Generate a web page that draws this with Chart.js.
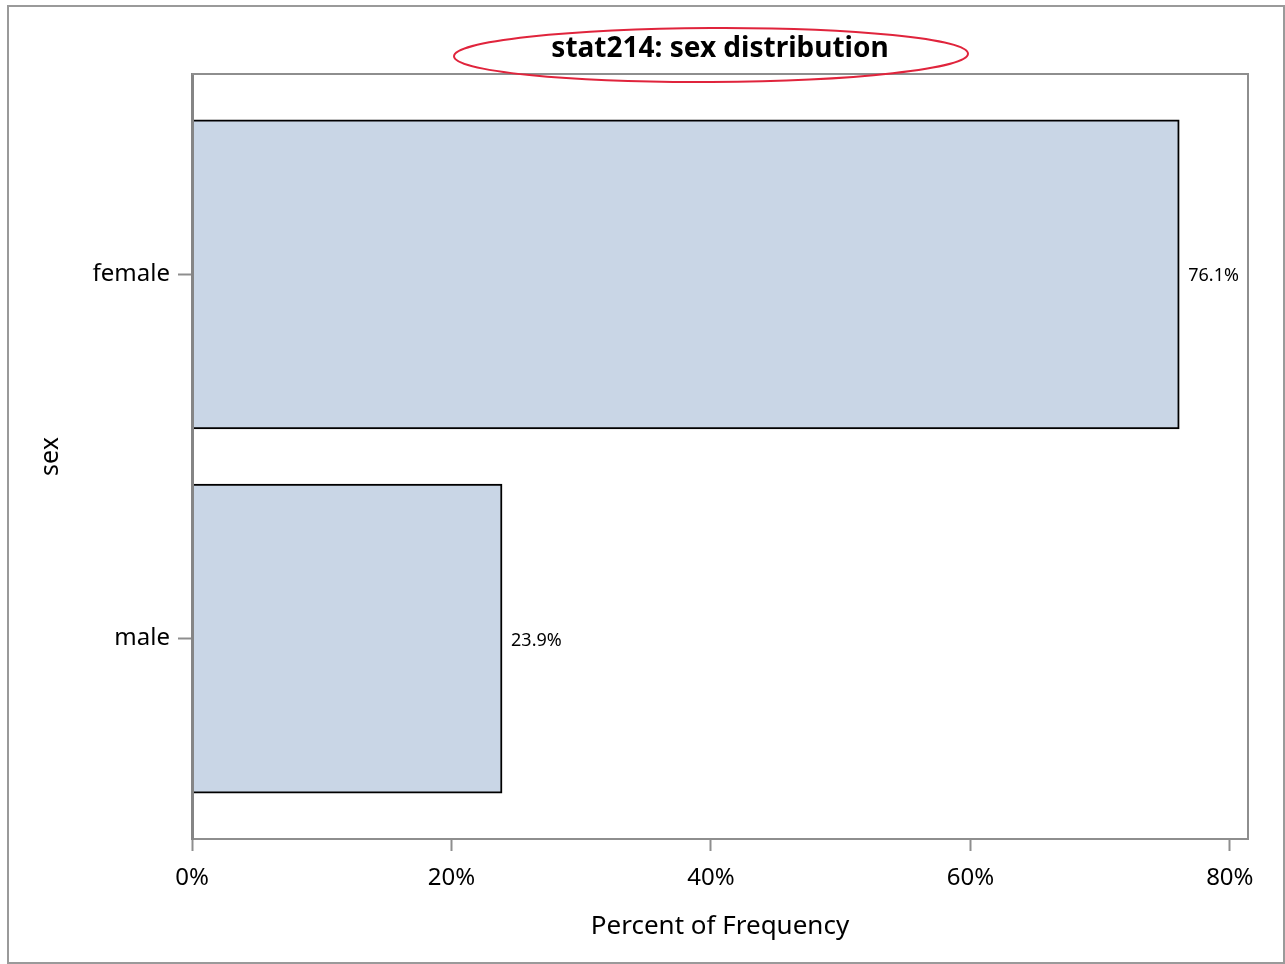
<!DOCTYPE html>
<html>
<head>
<meta charset="utf-8">
<script src="https://cdn.jsdelivr.net/npm/chart.js@4/dist/chart.umd.min.js"></script>
<style>
  html, body { margin: 0; padding: 0; background: #fff; }
  #wrap { width: 1285px; height: 964px; }
</style>
</head>
<body>
<div id="wrap"><canvas id="chart" width="1285" height="964"></canvas></div>
<script>
const categories = ['female', 'male'];
const percents = [76.1, 23.9];
const xTicks = [0, 20, 40, 60, 80];

const FONT = '"Noto Sans", "DejaVu Sans", sans-serif';
const GRAY = '#8e8e8e';

// category index -> position on the y scale (first category at the top)
const points = categories.map((c, i) => ({ x: percents[i], y: categories.length - 1 - i }));

const framePlugin = {
  id: 'frame',
  beforeDraw(chart) {
    const ctx = chart.ctx;
    ctx.save();
    ctx.strokeStyle = '#9a9a9a';
    ctx.lineWidth = 2;
    ctx.strokeRect(8, 6, 1276, 957);
    ctx.restore();
  },
  afterDraw(chart) {
    const { ctx, chartArea: a } = chart;
    ctx.save();
    ctx.strokeStyle = GRAY;
    ctx.lineWidth = 2;
    ctx.beginPath();
    ctx.moveTo(a.left, a.top);
    ctx.lineTo(a.right, a.top);
    ctx.lineTo(a.right, a.bottom);
    ctx.stroke();
    // red ellipse marking the title
    ctx.strokeStyle = '#e0243c';
    ctx.lineWidth = 2;
    ctx.beginPath();
    ctx.ellipse(711, 55, 257, 27, -0.005, 0, Math.PI * 2);
    ctx.stroke();
    ctx.restore();
  }
};

const valueLabels = {
  id: 'valueLabels',
  afterDatasetsDraw(chart) {
    const ctx = chart.ctx;
    const meta = chart.getDatasetMeta(0);
    ctx.save();
    ctx.font = '18px ' + FONT;
    ctx.fillStyle = '#000';
    ctx.textBaseline = 'middle';
    ctx.textAlign = 'left';
    meta.data.forEach((bar, i) => {
      ctx.fillText(percents[i].toFixed(1) + '%', bar.x + 9, bar.y + 2);
    });
    ctx.restore();
  }
};

new Chart(document.getElementById('chart'), {
  type: 'bar',
  data: {
    datasets: [{
      data: points,
      backgroundColor: '#c9d6e6',
      borderColor: '#000',
      borderWidth: 2,
      barThickness: 309
    }]
  },
  options: {
    indexAxis: 'y',
    responsive: false,
    animation: false,
    layout: { padding: { left: 0, right: 37, top: 0, bottom: 0 } },
    plugins: {
      legend: { display: false },
      tooltip: { enabled: false },
      title: {
        display: true,
        fullSize: false,
        text: 'stat214: sex distribution',
        color: '#000',
        font: { family: FONT, size: 28, weight: 'bold' },
        padding: { top: 32, bottom: 8.4 }
      }
    },
    scales: {
      x: {
        type: 'linear',
        min: 0,
        max: 81.4,
        afterBuildTicks: s => { s.ticks = xTicks.map(v => ({ value: v })); },
        afterFit: s => { s.height = 125; },
        ticks: {
          color: '#000',
          padding: 13,
          font: { family: FONT, size: 24 },
          callback: v => v + '%'
        },
        grid: { drawOnChartArea: false, tickLength: 12, tickColor: GRAY, tickWidth: 2 },
        border: { color: GRAY, width: 2 },
        title: {
          display: true,
          text: 'Percent of Frequency',
          color: '#000',
          font: { family: FONT, size: 26 },
          padding: { top: 0, bottom: 22 }
        }
      },
      y: {
        type: 'linear',
        offset: false,
        min: -0.55,
        max: 1.55,
        afterBuildTicks: s => { s.ticks = categories.map((c, i) => ({ value: i })); },
        afterFit: s => { s.width = 192; },
        ticks: {
          color: '#000',
          padding: 8,
          font: { family: FONT, size: 24 },
          callback: v => categories[categories.length - 1 - v]
        },
        grid: { offset: false, drawOnChartArea: false, tickLength: 14, tickColor: GRAY, tickWidth: 2 },
        border: { color: '#858585', width: 3, z: 1 },
        title: {
          display: true,
          text: 'sex',
          color: '#000',
          font: { family: FONT, size: 25 },
          padding: { top: 36, bottom: 0 }
        }
      }
    }
  },
  plugins: [framePlugin, valueLabels]
});
</script>
</body>
</html>
